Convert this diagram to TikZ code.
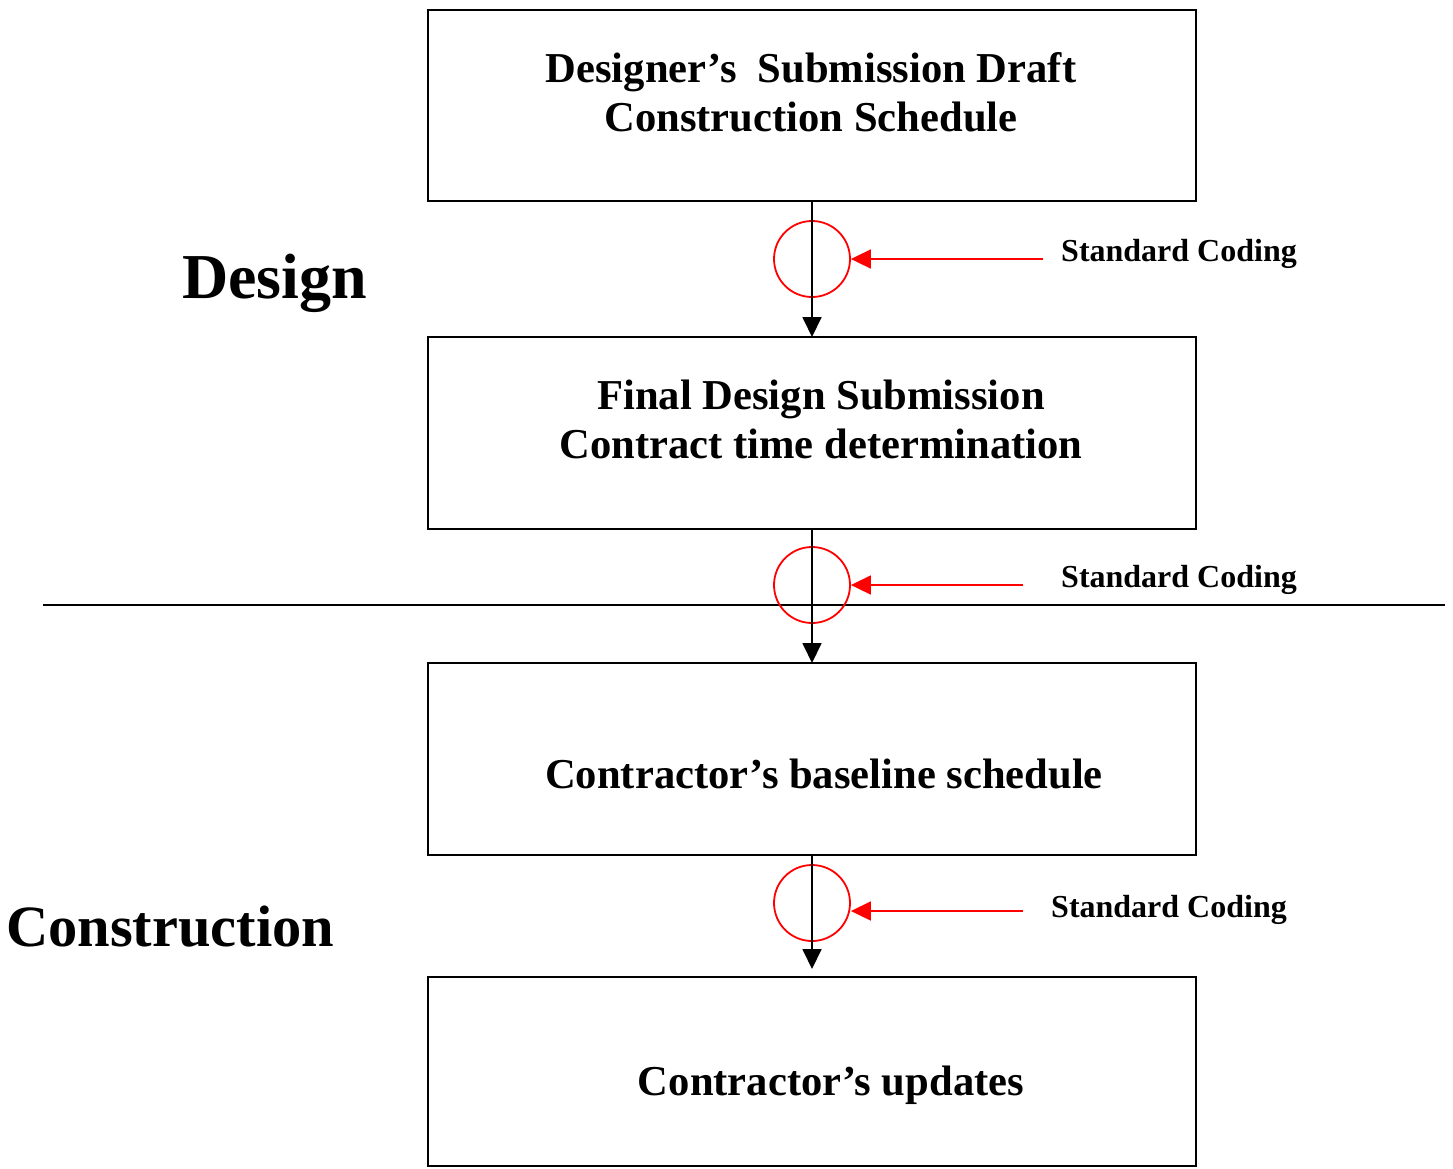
\documentclass[tikz,border=0pt]{standalone}
\usepackage{fontspec}
\setmainfont{Liberation Serif}
\usetikzlibrary{arrows.meta}
\tikzset{
  stepbox/.style={draw=black, line width=2pt, minimum width=768pt, inner sep=0pt, outer sep=0pt},
  boxtext/.style={anchor=base, inner sep=0pt, font=\fontsize{42.6}{49}\selectfont\bfseries},
  codetext/.style={anchor=base west, inner sep=0pt, font=\fontsize{32}{36}\selectfont\bfseries},
  phase/.style={anchor=base west, inner sep=0pt},
  ring/.style={draw=red, line width=1.8pt, circle, minimum size=76pt, inner sep=0pt},
  flow/.style={draw=black, line width=1.8pt, -{Triangle[length=20pt,width=19pt]}},
  redflow/.style={draw=red, line width=1.8pt, -{Triangle[length=20pt,width=19pt]}},
}
\begin{document}
\begin{tikzpicture}[x=1pt,y=-1pt]
\useasboundingbox (0,0) rectangle (1453,1168);
% boxes
\node[stepbox, minimum height=191pt] (b1) at (812,105.5) {};
\node[stepbox, minimum height=192pt] (b2) at (812,433) {};
\node[stepbox, minimum height=192pt] (b3) at (812,759) {};
\node[stepbox, minimum height=189pt] (b4) at (812,1071.5) {};
% box texts
\node[boxtext] (t1a) at (811,82) {Designer’s \ Submission Draft};
\node[boxtext] (t1b) at (811,131) {Construction Schedule};
\node[boxtext] (t2a) at (821,409) {Final Design Submission};
\node[boxtext] (t2b) at (821,458) {Contract time determination};
\node[boxtext] (t3) at (824,788) {Contractor’s baseline schedule};
\node[boxtext] (t4) at (831,1095) {Contractor’s updates};
% phase labels
\node[phase, font=\fontsize{64}{72}\selectfont\bfseries] (design) at (182,298) {Design};
\node[phase, font=\fontsize{58.5}{66}\selectfont\bfseries] (constr) at (6,946) {Construction};
% separator
\coordinate (sepL) at (43,605);
\coordinate (sepR) at (1445,605);
\draw[line width=2pt] (sepL) -- (sepR);
% rings
\node[ring] (c1) at (812,259) {};
\node[ring] (c2) at (812,585) {};
\node[ring] (c3) at (812,903) {};
% flow arrows
\draw[flow] (b1.south) -- (b2.north);
\draw[flow] (b2.south) -- (b3.north);
\coordinate (b4tip) at (812,969);
\draw[flow] (b3.south) -- (b4tip);
% coding labels and red arrows
\node[codetext] (s1) at (1061,261) {Standard Coding};
\node[codetext] (s2) at (1061,587) {Standard Coding};
\node[codetext] (s3) at (1051,917) {Standard Coding};
\coordinate (r1) at (1043,259);
\coordinate (r2) at (1023,585);
\coordinate (r3) at (1023,911);
\draw[redflow] (r1) -- (c1.east);
\draw[redflow] (r2) -- (c2.east);
\draw[redflow] (r3) -- (c3.east |- r3);
\end{tikzpicture}
\end{document}
